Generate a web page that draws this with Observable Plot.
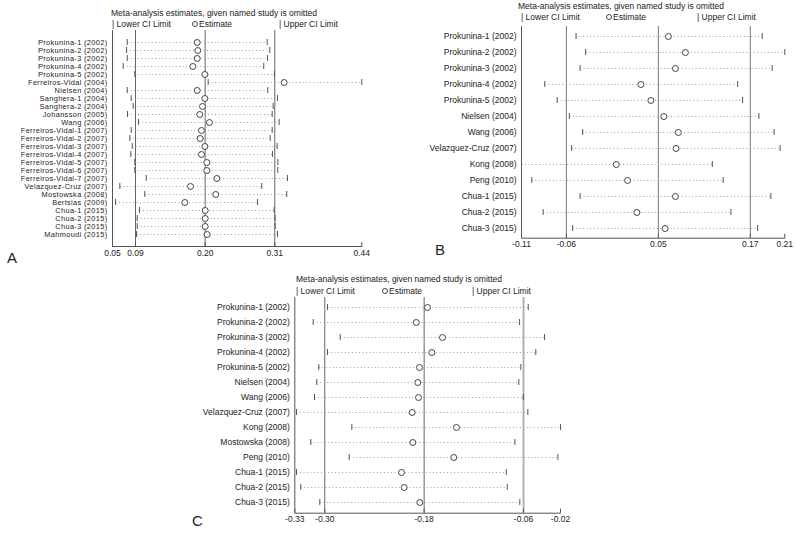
<!DOCTYPE html>
<html><head><meta charset="utf-8">
<script src="https://cdn.jsdelivr.net/npm/d3@7"></script>
<script src="https://cdn.jsdelivr.net/npm/@observablehq/plot@0.6"></script>
<style>
body{margin:0;background:#fff;}
#root{position:relative;width:796px;height:534px;overflow:hidden;font-family:"Liberation Sans",Arial,sans-serif;color:#222;background:#fff;}
.abs{position:absolute;white-space:nowrap;line-height:10px;}
.txt{font-size:8.5px;}
.panel{font-size:15px;line-height:16px;}
.circ{display:inline-block;width:4px;height:4px;border:1px solid #444;border-radius:50%;margin-right:1px;vertical-align:0px;}
</style></head><body><div id="root"></div>
<script>
// ---------- Panel A ----------
const studiesA = ["Prokunina-1 (2002)","Prokunina-2 (2002)","Prokunina-3 (2002)","Prokunina-4 (2002)","Prokunina-5 (2002)","Ferreiros-Vidal (2004)","Nielsen (2004)","Sanghera-1 (2004)","Sanghera-2 (2004)","Johansson (2005)","Wang (2006)","Ferreiros-Vidal-1 (2007)","Ferreiros-Vidal-2 (2007)","Ferreiros-Vidal-3 (2007)","Ferreiros-Vidal-4 (2007)","Ferreiros-Vidal-5 (2007)","Ferreiros-Vidal-6 (2007)","Ferreiros-Vidal-7 (2007)","Velazquez-Cruz (2007)","Mostowska (2008)","Bertsias (2009)","Chua-1 (2015)","Chua-2 (2015)","Chua-3 (2015)","Mahmoudi (2015)"];
const lowerA = [0.0771,0.0760,0.0771,0.0709,0.0889,0.2027,0.0771,0.0833,0.0864,0.0776,0.0947,0.0833,0.0812,0.0849,0.0827,0.0889,0.0889,0.1066,0.0657,0.1044,0.0590,0.0962,0.0926,0.0926,0.0916];
const estA = [0.1857,0.1866,0.1857,0.1789,0.1975,0.3206,0.1857,0.1975,0.1939,0.1897,0.2047,0.1923,0.1903,0.1975,0.1923,0.2006,0.2006,0.2161,0.1753,0.2145,0.1664,0.1981,0.1981,0.1981,0.2012];
const upperA = [0.2942,0.2983,0.2947,0.2889,0.3055,0.4409,0.2951,0.3102,0.3035,0.3020,0.3128,0.3020,0.2989,0.3097,0.3024,0.3107,0.3107,0.3257,0.2858,0.3246,0.2792,0.3051,0.3066,0.3066,0.3102];
const overallA = [0.090, 0.198, 0.306];
const ticksA = [0.0543, 0.090, 0.198, 0.306, 0.441];

// ---------- Panel B ----------
const studiesB = ["Prokunina-1 (2002)","Prokunina-2 (2002)","Prokunina-3 (2002)","Prokunina-4 (2002)","Prokunina-5 (2002)","Nielsen (2004)","Wang (2006)","Velazquez-Cruz (2007)","Kong (2008)","Peng (2010)","Chua-1 (2015)","Chua-2 (2015)","Chua-3 (2015)"];
const lowerB = [-0.0473,-0.0354,-0.0423,-0.0859,-0.0706,-0.0555,-0.0391,-0.0527,-0.1146,-0.1019,-0.0423,-0.0879,-0.0514];
const estB = [0.0667,0.0877,0.0754,0.0328,0.0451,0.0611,0.0790,0.0762,0.0024,0.0163,0.0754,0.0278,0.0627];
const upperB = [0.1825,0.2104,0.1948,0.1522,0.1583,0.1784,0.1972,0.2046,0.1209,0.1344,0.1932,0.1439,0.1768];
const overallB = [-0.0592, 0.0543, 0.1678];
const ticksB = [-0.1146, -0.0592, 0.0543, 0.1678, 0.2104];

// ---------- Panel C ----------
const studiesC = ["Prokunina-1 (2002)","Prokunina-2 (2002)","Prokunina-3 (2002)","Prokunina-4 (2002)","Prokunina-5 (2002)","Nielsen (2004)","Wang (2006)","Velazquez-Cruz (2007)","Kong (2008)","Mostowska (2008)","Peng (2010)","Chua-1 (2015)","Chua-2 (2015)","Chua-3 (2015)"];
const lowerC = [-0.2948,-0.3118,-0.2797,-0.2948,-0.3051,-0.3075,-0.3102,-0.3316,-0.2659,-0.3146,-0.2690,-0.3316,-0.3265,-0.3039];
const estC = [-0.1760,-0.1894,-0.1582,-0.1709,-0.1855,-0.1875,-0.1867,-0.1942,-0.1416,-0.1935,-0.1448,-0.2069,-0.2037,-0.1852];
const upperC = [-0.0564,-0.0667,-0.0370,-0.0474,-0.0652,-0.0676,-0.0623,-0.0569,-0.0180,-0.0723,-0.0212,-0.0825,-0.0813,-0.0664];
const overallC = [-0.298, -0.180, -0.062];
const ticksC = [-0.3336, -0.298, -0.180, -0.062, -0.0181];

const titleText = "Meta-analysis estimates, given named study is omitted";
const legendTexts = ["| Lower CI Limit", "Estimate", "| Upper CI Limit"];
const panelLetters = ["A", "B", "C"];

function forest(studies, lower, est, upper, overall, ticks, L) {
  const rows = studies.map((s, i) => ({study: s, lo: lower[i], est: est[i], hi: upper[i]}));
  const svg = Plot.plot({
    width: L.width, height: L.height,
    marginLeft: L.ml, marginRight: L.mr, marginTop: L.mt, marginBottom: L.mb,
    style: {fontFamily: '"Liberation Sans", Arial, sans-serif', fontSize: "8.5px", color: "#222", background: "transparent", overflow: "visible"},
    x: {domain: [ticks[0], ticks[ticks.length - 1]]},
    y: {type: "point", domain: studies, padding: L.pad},
    marks: [
      Plot.ruleX(overall, {stroke: (d, i) => L.refColors[i], strokeWidth: (d, i) => L.refWidths[i]}),
      Plot.ruleX([ticks[0]], {stroke: "#555", strokeWidth: 1}),
      Plot.frame({anchor: "bottom", stroke: "#555"}),
      Plot.link(rows, {x1: "lo", x2: "hi", y1: "study", y2: "study", stroke: "#a0a0a0", strokeDasharray: "1 2.5", strokeWidth: 1}),
      Plot.ruleX(rows, {x: "lo", y1: "study", y2: "study", stroke: "#555", insetTop: -3, insetBottom: -3}),
      Plot.ruleX(rows, {x: "hi", y1: "study", y2: "study", stroke: "#555", insetTop: -3, insetBottom: -3}),
      Plot.dot(rows, {x: "est", y: "study", r: 3, stroke: "#444", fill: "white", strokeWidth: 1}),
      Plot.axisY({tickSize: 0, tickPadding: 5, label: null, fontSize: L.labelSize}),
      Plot.axisX({ticks: ticks, tickFormat: d => d.toFixed(2), tickSize: -4, tickPadding: 7, label: null, stroke: "#555"})
    ]
  });
  svg.querySelectorAll('[aria-label="y-axis tick label"]').forEach(g => g.style.letterSpacing = L.spacing + "px");
  return svg;
}

const root = document.getElementById("root");
function place(el, left, top) {
  const d = document.createElement("div");
  d.className = "abs";
  d.style.left = left + "px"; d.style.top = top + "px";
  d.appendChild(el);
  root.appendChild(d);
  return d;
}
function text(str, left, top, cls, withCircle) {
  const d = document.createElement("div");
  d.className = "abs " + cls;
  d.style.left = left + "px"; d.style.top = top + "px";
  if (withCircle) { const c = document.createElement("span"); c.className = "circ"; d.appendChild(c); }
  d.appendChild(document.createTextNode(str));
  root.appendChild(d);
}

const layouts = [
  {left: 0, top: 0, width: 380, height: 270, ml: 112, mr: 18.7, mt: 30, mb: 24, pad: 1.1, labelSize: 7.4, spacing: 0.35,
   refColors: ["#666", "#666", "#666"], refWidths: [1, 1, 1],
   title: [111, 8], legendY: 19, legendX: [112, 192, 279], letter: [7, 250]},
  {left: 400, top: 0, width: 396, height: 260, ml: 121, mr: 11.7, mt: 26, mb: 22.3, pad: 0.46, labelSize: 8.5, spacing: 0,
   refColors: ["#777", "#777", "#777"], refWidths: [1, 1, 1],
   title: [518, 1], legendY: 12, legendX: [521, 606, 697], letter: [435, 242]},
  {left: 180, top: 270, width: 400, height: 264, ml: 114.3, mr: 20, mt: 27, mb: 21.3, pad: 0.57, labelSize: 8.5, spacing: 0,
   refColors: ["#666", "#666", "#aaa"], refWidths: [1, 1, 1.8],
   title: [296, 274], legendY: 286, legendX: [296, 382, 472], letter: [192, 513]}
];
const datasets = [
  [studiesA, lowerA, estA, upperA, overallA, ticksA],
  [studiesB, lowerB, estB, upperB, overallB, ticksB],
  [studiesC, lowerC, estC, upperC, overallC, ticksC]
];

datasets.forEach((ds, k) => {
  const L = layouts[k];
  place(forest(...ds, L), L.left, L.top);
  text(titleText, L.title[0], L.title[1], "txt");
  text(legendTexts[0], L.legendX[0], L.legendY, "txt");
  text(legendTexts[1], L.legendX[1], L.legendY, "txt", true);
  text(legendTexts[2], L.legendX[2], L.legendY, "txt");
  text(panelLetters[k], L.letter[0], L.letter[1], "panel");
});
</script></body></html>
